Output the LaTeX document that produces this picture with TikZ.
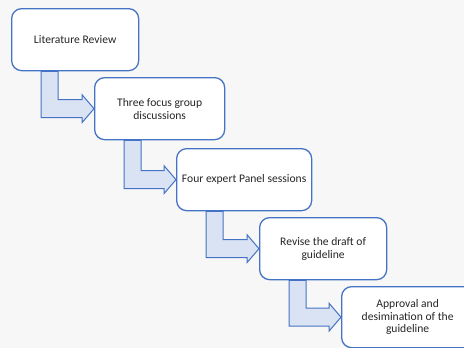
\documentclass[tikz,border=0pt]{standalone}
\usepackage{fontspec}
\setmainfont{Carlito}
\usetikzlibrary{calc}
\definecolor{bgc}{RGB}{247,247,247}
\definecolor{edge}{RGB}{68,114,196}
\definecolor{afill}{RGB}{218,227,243}
\definecolor{txt}{RGB}{38,38,38}
\tikzset{
  stepbox/.style={draw=edge, line width=1.3pt, fill=white, rounded corners=10pt,
    minimum height=62pt, inner sep=2pt, align=center, text=txt,
    font=\fontsize{11.6}{12.8}\selectfont, anchor=north west},
  bent/.style={draw=edge, line width=1pt, fill=afill, line join=miter}
}
\newcommand{\bentarrow}[2]{%
  \path let \p1=(#1.south west), \p2=(#2.west) in
    [bent] (\x1+30pt,\y1) -- (\x1+30pt,\y2-9pt) -- (\x2-12pt,\y2-9pt)
    -- (\x2-12pt,\y2-14pt) -- (\x2,\y2) -- (\x2-12pt,\y2+14pt)
    -- (\x2-12pt,\y2+9pt) -- (\x1+47pt,\y2+9pt) -- (\x1+47pt,\y1) -- cycle;}
\begin{document}
\begin{tikzpicture}[x=1pt,y=-1pt]
\fill[bgc] (0,0) rectangle (464,348);
\useasboundingbox (0,0) rectangle (464,348);
\node[stepbox, minimum width=127pt] (b1) at (11,8) {Literature Review};
\node[stepbox, minimum width=130pt] (b2) at (94,77) {Three focus group\\discussions};
\node[stepbox, minimum width=135pt] (b3) at (176,148) {Four expert Panel sessions};
\node[stepbox, minimum width=127pt] (b4) at (259,217) {Revise the draft of\\guideline};
\node[stepbox, minimum width=132pt, minimum height=61pt] (b5) at (341,286) {Approval and\\desimination of the\\guideline};
\bentarrow{b1}{b2}
\bentarrow{b2}{b3}
\bentarrow{b3}{b4}
\bentarrow{b4}{b5}
\end{tikzpicture}
\end{document}
